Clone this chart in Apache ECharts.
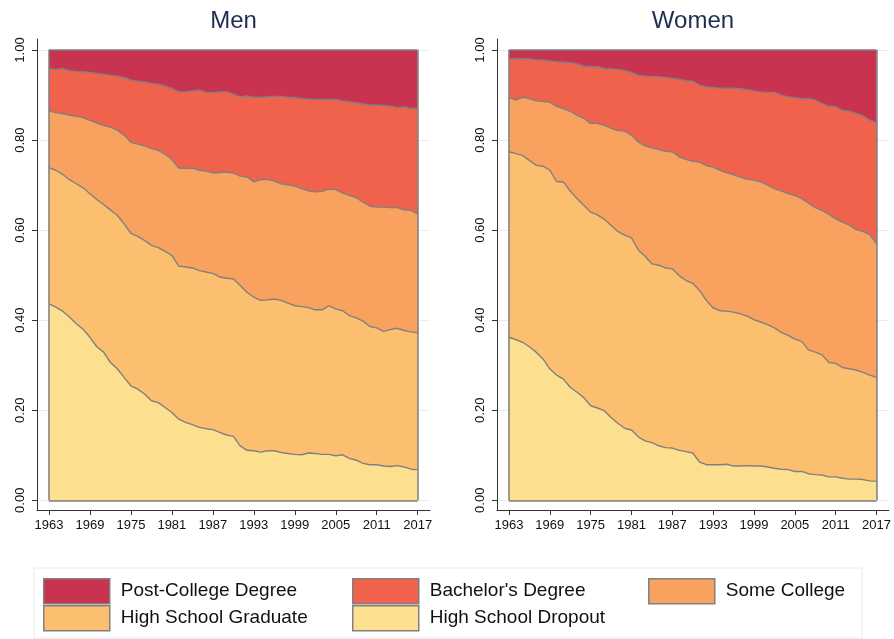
<!DOCTYPE html>
<html>
<head>
<meta charset="utf-8">
<script src="https://cdn.jsdelivr.net/npm/echarts@6/dist/echarts.min.js"></script>
<style>
  html, body { margin: 0; padding: 0; background: #fff; }
  #chart { width: 894px; height: 639px; }
</style>
</head>
<body>
<div id="chart"></div>
<script>
// years on the x axis
var years = [];
for (var yr = 1963; yr <= 2017; yr++) years.push(yr);
var yearTicks = [1963, 1969, 1975, 1981, 1987, 1993, 1999, 2005, 2011, 2017];
var shareTicks = [0, 0.2, 0.4, 0.6, 0.8, 1];

var categories = ['Post-College Degree', "Bachelor's Degree", 'Some College', 'High School Graduate', 'High School Dropout'];
var colors = ['#c93350', '#f0624c', '#f9a25f', '#fcbf6f', '#fde08f'];

// cumulative shares (from the bottom of the stack up to each group)
var menDropout = [0.436,0.429,0.420,0.407,0.392,0.380,0.362,0.341,0.329,0.306,
  0.292,0.273,0.254,0.247,0.236,0.221,0.217,0.206,0.195,0.180,
  0.173,0.168,0.162,0.159,0.157,0.151,0.145,0.142,0.121,0.111,
  0.110,0.107,0.110,0.110,0.106,0.104,0.102,0.101,0.105,0.104,
  0.102,0.102,0.099,0.101,0.093,0.089,0.082,0.079,0.079,0.076,
  0.075,0.077,0.074,0.069,0.068];
var menHSGrad = [0.739,0.733,0.724,0.712,0.703,0.694,0.681,0.668,0.657,0.645,
  0.633,0.614,0.593,0.586,0.577,0.566,0.561,0.553,0.544,0.520,
  0.518,0.516,0.510,0.507,0.504,0.496,0.493,0.492,0.477,0.462,
  0.451,0.444,0.445,0.447,0.444,0.438,0.432,0.430,0.428,0.423,
  0.423,0.432,0.425,0.421,0.410,0.405,0.398,0.386,0.383,0.375,
  0.379,0.382,0.377,0.374,0.372];
var menSomeCollege = [0.865,0.861,0.859,0.855,0.853,0.850,0.844,0.838,0.833,0.829,
  0.822,0.811,0.795,0.791,0.787,0.781,0.777,0.769,0.757,0.738,
  0.737,0.738,0.733,0.731,0.727,0.728,0.729,0.727,0.720,0.718,
  0.707,0.712,0.713,0.709,0.703,0.700,0.698,0.692,0.687,0.685,
  0.686,0.691,0.690,0.682,0.677,0.672,0.662,0.653,0.651,0.651,
  0.650,0.650,0.645,0.644,0.636];
var menBachelor = [0.959,0.957,0.959,0.954,0.952,0.952,0.950,0.948,0.946,0.944,
  0.942,0.939,0.933,0.931,0.929,0.926,0.924,0.920,0.915,0.907,
  0.907,0.909,0.911,0.906,0.905,0.907,0.907,0.902,0.896,0.898,
  0.895,0.895,0.896,0.897,0.897,0.895,0.894,0.892,0.891,0.890,
  0.890,0.890,0.890,0.887,0.885,0.883,0.880,0.878,0.878,0.877,
  0.875,0.872,0.874,0.870,0.870];

var womenDropout = [0.362,0.357,0.351,0.341,0.329,0.314,0.292,0.278,0.269,0.251,
  0.240,0.228,0.210,0.205,0.199,0.184,0.171,0.160,0.156,0.141,
  0.132,0.128,0.121,0.117,0.116,0.111,0.108,0.105,0.085,0.079,
  0.079,0.079,0.080,0.076,0.076,0.077,0.076,0.076,0.074,0.071,
  0.069,0.068,0.064,0.064,0.059,0.057,0.056,0.052,0.052,0.049,
  0.047,0.047,0.046,0.043,0.042];
var womenHSGrad = [0.774,0.770,0.766,0.755,0.744,0.742,0.733,0.708,0.707,0.687,
  0.670,0.655,0.640,0.634,0.624,0.611,0.597,0.589,0.583,0.556,
  0.542,0.525,0.522,0.516,0.514,0.499,0.488,0.482,0.466,0.444,
  0.427,0.421,0.420,0.418,0.414,0.409,0.401,0.396,0.390,0.383,
  0.373,0.366,0.358,0.353,0.334,0.329,0.323,0.306,0.304,0.295,
  0.292,0.289,0.284,0.278,0.273];
var womenSomeCollege = [0.895,0.889,0.895,0.892,0.887,0.886,0.884,0.875,0.870,0.864,
  0.855,0.848,0.837,0.837,0.833,0.826,0.821,0.820,0.811,0.796,
  0.787,0.783,0.779,0.775,0.774,0.763,0.757,0.753,0.751,0.743,
  0.740,0.733,0.727,0.723,0.718,0.713,0.711,0.707,0.700,0.692,
  0.687,0.681,0.677,0.670,0.660,0.650,0.644,0.635,0.625,0.618,
  0.611,0.601,0.597,0.590,0.570];
var womenBachelor = [0.981,0.980,0.981,0.980,0.978,0.978,0.976,0.974,0.973,0.972,
  0.969,0.964,0.963,0.963,0.959,0.958,0.957,0.954,0.950,0.944,
  0.942,0.941,0.941,0.939,0.937,0.935,0.932,0.931,0.922,0.918,
  0.917,0.915,0.915,0.915,0.914,0.912,0.909,0.907,0.906,0.906,
  0.900,0.896,0.894,0.892,0.892,0.889,0.881,0.875,0.874,0.866,
  0.864,0.859,0.854,0.844,0.839];
var totalShare = 1; // everything up to post-college degree

var myChart = echarts.init(document.getElementById('chart'));
var font = 'Liberation Sans, Arial, Helvetica, sans-serif';
var outline = '#808080';

var panels = [
  { title: 'Men', cx: 233.5, cum: [years.map(function () { return totalShare; }), menBachelor, menSomeCollege, menHSGrad, menDropout] },
  { title: 'Women', cx: 693, cum: [years.map(function () { return totalShare; }), womenBachelor, womenSomeCollege, womenHSGrad, womenDropout] }
];

var grids = [], xAxes = [], yAxes = [], series = [], graphics = [];
panels.forEach(function (p, g) {
  grids.push({ left: g === 0 ? 37 : 497, top: 39, width: 393, height: 471 });
  xAxes.push({
    type: 'value', gridIndex: g, min: 1961.25, max: 2018.8,
    axisLine: { onZero: false, lineStyle: { color: '#333', width: 1 } },
    axisTick: { customValues: yearTicks, length: 5, lineStyle: { color: '#333' } },
    axisLabel: {
      customValues: yearTicks, margin: 9, color: '#111', fontSize: 13, fontFamily: font,
      formatter: function (v) { return String(v); }
    },
    splitLine: { show: false }
  });
  yAxes.push({
    type: 'value', gridIndex: g, min: -0.0216, max: 1.0245,
    axisLine: { show: true, onZero: false, lineStyle: { color: '#333', width: 1 } },
    axisTick: { show: true, customValues: shareTicks, length: 5, lineStyle: { color: '#333' } },
    axisLabel: {
      customValues: shareTicks, rotate: 90, margin: 10, color: '#111', fontSize: 13, fontFamily: font,
      formatter: function (v) { return v.toFixed(2); }
    },
    splitLine: { show: true, lineStyle: { color: '#e6eef1', width: 1 } }
  });
  p.cum.forEach(function (vals, i) {
    var s = {
      name: categories[i],
      type: 'line',
      xAxisIndex: g, yAxisIndex: g,
      data: years.map(function (y, k) { return [y, vals[k]]; }),
      showSymbol: false, symbol: 'none',
      silent: true, animation: false,
      lineStyle: { color: outline, width: 1.4 },
      itemStyle: { color: colors[i] },
      areaStyle: { color: colors[i], opacity: 1, origin: 0 }
    };
    if (i === p.cum.length - 1) {
      // outline round the stacked block
      var a = years[0], b = years[years.length - 1];
      s.markLine = {
        silent: true, symbol: 'none', animation: false,
        label: { show: false },
        lineStyle: { color: outline, width: 1.5, type: 'solid' },
        data: [
          [{ coord: [a, 0] }, { coord: [a, totalShare] }],
          [{ coord: [b, 0] }, { coord: [b, totalShare] }],
          [{ coord: [a, 0] }, { coord: [b, 0] }]
        ]
      };
    }
    series.push(s);
  });
  graphics.push({
    type: 'text', x: p.cx, y: 21,
    style: { text: p.title, font: '24px ' + font, fill: '#1e2d52', align: 'center', verticalAlign: 'middle' }
  });
});

graphics.push({
  type: 'rect', z: -1,
  shape: { x: 34, y: 568, width: 828, height: 70 },
  style: { fill: '#fff', stroke: '#e2eaee', lineWidth: 1 }
});

var legendPos = [[43, 578], [352, 578], [648, 578], [43, 605], [352, 605]];
var legends = categories.map(function (c, i) {
  return {
    data: [c], left: legendPos[i][0], top: legendPos[i][1], padding: 0,
    icon: 'rect', itemWidth: 66, itemHeight: 25, selectedMode: false,
    itemStyle: { borderColor: outline, borderWidth: 1.5 },
    textStyle: { fontSize: 19, color: '#111', fontFamily: font, padding: [0, 0, 0, 6] }
  };
});

var option = {
  backgroundColor: '#fff',
  animation: false,
  grid: grids,
  xAxis: xAxes,
  yAxis: yAxes,
  legend: legends,
  graphic: graphics,
  series: series
};
myChart.setOption(option);
</script>
</body>
</html>
